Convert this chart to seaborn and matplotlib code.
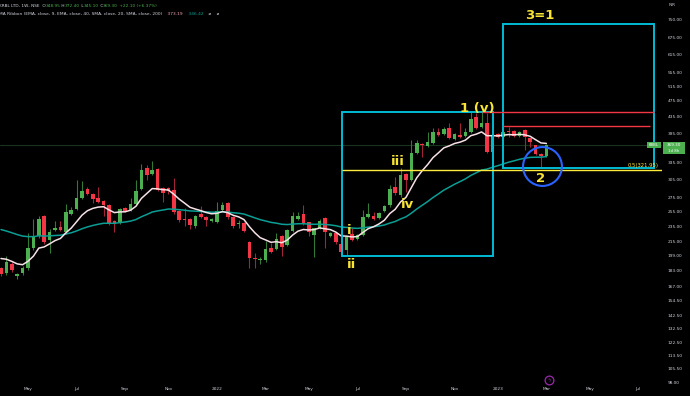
import numpy as np
import pandas as pd
import matplotlib
matplotlib.use("Agg")
import matplotlib.pyplot as plt
import matplotlib.dates as mdates
import matplotlib.ticker as mticker
from matplotlib.transforms import blended_transform_factory
from matplotlib.patches import Rectangle
import seaborn as sns

# ---------------- data (weekly candles, KRBL LTD, NSE) ----------------
first_week = "2021-03-29"
opens = [185.6, 180.4, 189.8, 177.4, 180.4, 185.6, 207.6, 222.0, 248.4, 217.1,
         229.6, 233.5, 227.1, 251.2, 258.3, 274.7, 289.0, 281.0, 274.7, 270.2,
         264.2, 241.5, 240.2, 259.8, 256.9, 265.7, 289.0, 325.1, 314.4, 323.3,
         290.6, 290.6, 287.4, 255.5, 244.3, 244.3, 234.9, 251.2, 247.0, 241.5,
         240.2, 256.9, 267.2, 247.0, 237.6, 238.9, 214.7, 196.3, 194.1, 194.1,
         207.6, 206.4, 222.0, 211.1, 228.4, 244.3, 251.2, 240.2, 223.3, 232.2,
         245.6, 222.0, 225.8, 212.3, 205.3, 224.5, 218.3, 223.3, 247.0, 248.4,
         245.6, 255.5, 264.2, 292.3, 279.4, 314.4, 304.0, 353.6, 372.0, 367.8,
         374.1, 397.8, 393.4, 406.8, 382.6, 391.2, 389.0, 397.8, 432.7, 409.1,
         418.4, 355.6, 393.4, 386.9, 400.0, 400.0, 389.0, 402.3, 384.7, 369.9,
         351.7, 348.95]
highs = [187.0, 199.0, 192.0, 181.0, 187.6, 225.8, 244.3, 248.4, 250.0, 230.9,
         241.5, 241.5, 265.7, 261.3, 304.0, 302.3, 292.3, 283.0, 292.3, 272.0,
         266.0, 243.0, 260.0, 261.0, 275.2, 304.0, 332.4, 330.6, 338.1, 326.0,
         292.0, 293.0, 307.4, 257.0, 259.8, 246.0, 250.0, 262.8, 248.0, 246.0,
         268.7, 268.7, 269.0, 248.0, 242.9, 240.0, 216.0, 201.9, 197.4, 215.9,
         213.5, 225.8, 223.0, 231.0, 253.9, 253.9, 264.2, 241.0, 233.0, 244.3,
         247.0, 227.0, 227.0, 213.0, 222.0, 232.2, 225.0, 256.9, 267.2, 253.9,
         254.0, 264.0, 295.6, 309.2, 325.1, 316.0, 380.4, 380.4, 374.0, 397.8,
         406.8, 406.8, 410.0, 418.4, 395.0, 418.4, 406.8, 445.3, 442.8, 447.8,
         442.8, 393.0, 395.0, 400.0, 409.1, 402.0, 400.0, 404.0, 386.0, 371.0,
         353.0, 372.40]
lows = [178.0, 179.0, 182.0, 174.5, 179.0, 184.0, 206.0, 220.0, 213.0, 201.9,
        228.0, 228.0, 225.0, 250.0, 257.0, 273.0, 280.0, 267.2, 267.0, 248.4,
        237.0, 227.1, 238.0, 254.0, 255.0, 264.0, 287.0, 304.0, 312.0, 286.0,
        268.7, 281.0, 252.0, 241.0, 235.0, 230.9, 233.0, 246.0, 235.0, 240.0,
        239.0, 255.0, 245.0, 233.0, 232.2, 227.0, 185.6, 185.6, 189.8, 192.0,
        202.0, 205.0, 199.0, 210.0, 227.0, 243.0, 237.0, 222.0, 197.4, 231.0,
        207.6, 221.0, 213.0, 201.0, 199.6, 216.0, 217.0, 222.0, 246.0, 243.0,
        244.0, 254.0, 262.0, 279.4, 277.0, 284.2, 302.0, 352.0, 345.8, 366.0,
        372.0, 389.0, 391.0, 383.0, 381.0, 385.0, 387.0, 396.0, 404.0, 407.0,
        353.0, 353.0, 385.0, 385.0, 386.9, 387.0, 387.0, 359.6, 365.8, 350.0,
        327.0, 345.10]
closes = [179.4, 191.9, 183.5, 179.4, 185.6, 207.6, 220.8, 244.3, 214.7, 227.1,
          232.2, 229.6, 253.9, 256.9, 274.7, 285.8, 281.0, 273.2, 268.7, 264.2,
          238.9, 237.6, 258.3, 255.5, 265.7, 285.8, 321.5, 312.6, 321.5, 287.4,
          282.5, 285.8, 253.9, 242.9, 242.9, 236.2, 248.4, 247.0, 242.9, 244.3,
          255.5, 264.2, 247.0, 234.9, 238.9, 228.4, 196.3, 195.2, 195.2, 206.4,
          203.0, 218.3, 208.8, 229.6, 248.4, 248.4, 238.9, 227.1, 232.2, 241.5,
          227.1, 225.8, 214.7, 203.0, 220.8, 217.1, 223.3, 247.0, 251.2, 244.3,
          252.5, 262.8, 289.0, 282.5, 312.6, 304.0, 353.6, 374.1, 369.9, 376.2,
          397.8, 391.2, 404.5, 384.7, 393.4, 386.9, 397.8, 427.9, 406.8, 418.4,
          355.6, 391.2, 386.9, 397.8, 397.8, 389.0, 397.8, 386.9, 376.2, 351.7,
          347.2, 369.30]

# MA ribbon settings and the indicator levels just before the first visible bar
ema_fast_len, ema_slow_len = 9, 40
ema_fast_start, ema_slow_start = 200.0, 233.0

price_ticks = [750, 675, 615, 555, 515, 475, 435, 395, 335, 305, 275, 255, 235,
               215, 199, 183, 167, 154.5, 142.5, 132.5, 122.5, 113.5, 105.5, 98]
month_ticks = pd.date_range("2021-05-01", "2023-07-01", freq="2MS")

# drawings (Elliott-wave annotations)
box1 = ("2022-06-14", "2022-12-27", 199.0, 445.3)
box2 = ("2023-01-09", "2023-07-24", 325.1, 729.3)
red_line1 = ("2022-12-12", "2023-07-24", 445.3)
red_line2 = ("2023-01-09", "2023-07-18", 411.4)
fib_level = 321.95
fib_start = "2022-06-14"
circle_center = ("2023-02-28", 329.7)
wave_labels = [("1 (v)", "2022-12-06", 455.0), ("iii", "2022-08-25", 338.1),
               ("iv", "2022-09-07", 265.7), ("ii", "2022-06-27", 189.8),
               ("i", "2022-06-24", 229.6), ("2", "2023-02-27", 307.4),
               ("3=1", "2023-02-26", 767.0)]

# ---------------- figure ----------------
sns.set_theme(style="dark", rc={"axes.facecolor": "black", "figure.facecolor": "black",
                                "savefig.facecolor": "black"})
plt.rcParams["font.family"] = ["DejaVu Sans"]

W, H = 690, 396
fig = plt.figure(figsize=(W / 100, H / 100), dpi=100)
ax = fig.add_axes([0, 11 / H, 662 / W, 385 / H])
ax.set_facecolor("black")

dates = pd.date_range(first_week, periods=len(closes), freq="7D")
df = pd.DataFrame({"date": dates, "open": opens, "high": highs, "low": lows, "close": closes})


def ema(values, n, start):
    a = 2.0 / (n + 1)
    e = start
    out = []
    for v in values:
        e = e + a * (v - e)
        out.append(e)
    return out


df["ema_fast"] = ema(df["close"], ema_fast_len, ema_fast_start)
df["ema_slow"] = ema(df["close"], ema_slow_len, ema_slow_start)

up_c, dn_c = "#4caf50", "#f23645"
up_w, dn_w = "#347a37", "#a3243a"
is_up = df["close"] >= df["open"]
bar_w = 4.6  # days

ax.set_yscale("log")
ax.axhline(closes[-1], color="#153520", lw=0.8, zorder=1)

ax.vlines(df["date"], df["low"], df["high"], colors=np.where(is_up, up_w, dn_w), lw=0.8, zorder=2)
body_lo = np.minimum(df["open"], df["close"])
body_h = np.maximum(np.abs(df["close"] - df["open"]), df["close"] * 0.004)
ax.bar(df["date"], body_h, bottom=body_lo, width=bar_w,
       color=np.where(is_up, up_c, dn_c), edgecolor="none", zorder=3)

sns.lineplot(data=df, x="date", y="ema_slow", color="#0a9e94", lw=1.1, ax=ax, zorder=4)
sns.lineplot(data=df, x="date", y="ema_fast", color="#f6e1e6", lw=1.1, ax=ax, zorder=4)

d0 = pd.Timestamp(first_week)
ax.set_xlim(d0 - pd.Timedelta(days=1.3), d0 + pd.Timedelta(days=856.9))
ax.set_ylim(96.4, 834.3)

# drawings
cyan = "#00bcd4"
for (a, b, lo, hi) in (box1, box2):
    xa, xb = mdates.date2num(pd.Timestamp(a)), mdates.date2num(pd.Timestamp(b))
    ax.add_patch(Rectangle((xa, lo), xb - xa, hi - lo, fill=False, ec=cyan, lw=1.4, zorder=5))
for (a, b, lvl) in (red_line1, red_line2):
    ax.hlines(lvl, pd.Timestamp(a), pd.Timestamp(b), color="#f23645", lw=1.0, zorder=6)
ax.hlines(fib_level, pd.Timestamp(fib_start), ax.get_xlim()[1], color="#ffeb3b", lw=1.0, zorder=5)
blend_ad = blended_transform_factory(ax.transAxes, ax.transData)
ax.text(0.9955, fib_level * 1.012, "0.5(321.95)", transform=blend_ad, ha="right", va="bottom",
        color="#ffeb3b", fontsize=3.8, zorder=7)
ax.plot([pd.Timestamp(circle_center[0])], [circle_center[1]], marker="o", ms=28, mfc="none",
        mec="#2962ff", mew=1.5, zorder=7)
yel = "#f7e433"
for s, d, p in wave_labels:
    ax.text(pd.Timestamp(d), p, s, color=yel, fontsize=9.5, fontweight="bold",
            ha="center", va="center", zorder=8)

# event marker on bottom
blend_da = blended_transform_factory(ax.transData, ax.transAxes)
ev_x = pd.Timestamp("2023-03-09")
ax.plot([ev_x], [0.012], transform=blend_da, marker="o", ms=6.3, mfc="none", mec="#9c27b0",
        mew=0.9, clip_on=False, zorder=8)
ax.text(ev_x, 0.012, "ϟ", transform=blend_da, color="#9c27b0", fontsize=3.5, ha="center",
        va="center", clip_on=False)

# axes
ax.yaxis.tick_right()
ax.yaxis.set_major_locator(mticker.FixedLocator(price_ticks))
ax.yaxis.set_major_formatter(mticker.FuncFormatter(lambda v, _: f"{v:.2f}"))
ax.yaxis.set_minor_locator(mticker.NullLocator())
first_bars = [m + pd.Timedelta(days=(7 - m.weekday()) % 7) for m in month_ticks]
ax.set_xticks(first_bars)
ax.set_xticklabels([str(m.year) if m.month == 1 else m.strftime("%b") for m in month_ticks])
ax.tick_params(axis="y", length=0, pad=4.2, labelsize=3.1, colors="#d1d4dc")
ax.tick_params(axis="x", length=0, pad=1.5, labelsize=3.1, colors="#d1d4dc")
ax.grid(False)
for sp in ax.spines.values():
    sp.set_visible(False)
ax.set_xlabel("")
ax.set_ylabel("")

# price label on axis
ax.add_patch(Rectangle((647 / 662, 363.9), 14 / 662, 376.3 - 363.9, transform=blend_ad,
                       fc="#4caf50", ec="none", clip_on=False, zorder=9))
ax.text(654 / 662, 370.0, "KRBL", transform=blend_ad, color="white", fontsize=2.8,
        ha="center", va="center", zorder=10)
ax.add_patch(Rectangle((663 / 662, 352.0), 22 / 662, 376.3 - 352.0, transform=blend_ad,
                       fc="#4caf50", ec="none", clip_on=False, zorder=9))
ax.text(674 / 662, 369.3, "369.30", transform=blend_ad, color="white", fontsize=3.0,
        ha="center", va="center", zorder=10, clip_on=False)
ax.text(674 / 662, 357.6, "1d 8h", transform=blend_ad, color="white", fontsize=2.8,
        ha="center", va="center", zorder=10, clip_on=False)
fig.text(672 / W, 1 - 5 / H, "INR", color="#d1d4dc", fontsize=3.0, ha="center", va="center")

# legend lines (top left)
renderer = fig.canvas.get_renderer()


def draw_segments(x_px, y_px, segments, size):
    x = x_px
    for s, c in segments:
        t = fig.text(x / W, 1 - y_px / H, s, color=c, fontsize=size, ha="left", va="center")
        x = t.get_window_extent(renderer).x1


grey, grn = "#d1d4dc", "#4caf50"
draw_segments(-1, 6, [("KRBL LTD, 1W, NSE ", grey), (" O", grey), ("348.95", grn),
                      (" H", grey), ("372.40", grn), (" L", grey), ("345.10", grn),
                      (" C", grey), ("369.30", grn), (" +22.10 (+6.37%)", grn)], 3.05)
draw_segments(-1, 14, [("MA Ribbon (EMA, close, 9, EMA, close, 40, SMA, close, 20, SMA, close, 200)", grey),
                       ("    373.19", "#f4a6b8"), ("    346.42", "#0a9e94"),
                       ("    \u00f8    \u00f8", grey)], 3.2)

fig.savefig("out.png", dpi=100, facecolor="black")
